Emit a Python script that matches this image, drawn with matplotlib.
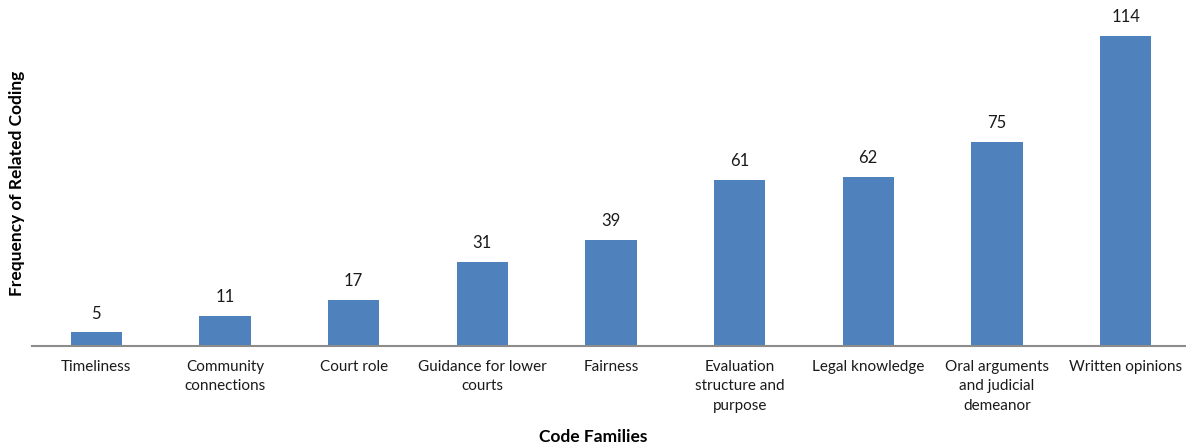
import matplotlib.pyplot as plt

# =============================================================================
# Data
# =============================================================================

families = ['Timeliness', 'Community\nconnections', 'Court role',
            'Guidance for lower\ncourts', 'Fairness',
            'Evaluation\nstructure and\npurpose', 'Legal knowledge',
            'Oral arguments\nand judicial\ndemeanor', 'Written opinions']
counts = [5, 11, 17, 31, 39, 61, 62, 75, 114]

# =============================================================================
# Plot
# =============================================================================

plt.rcParams['font.family'] = ['Lato', 'DejaVu Sans']

fig = plt.figure(figsize = (11.86, 4.47), dpi = 100)
ax = fig.add_axes([32/1186, 1 - 346/447, 1 - 32/1186, 346/447])

x = range(len(families))
ax.bar(x, counts, width = 0.40, color = '#4F81BD', zorder = 2)
for xi, c in zip(x, counts):
    ax.text(xi, c + 4, str(c), ha = 'center', va = 'bottom', fontsize = 12, color = '#1a1a1a')

ax.set_xlim(-0.5, 8.47)
ax.set_ylim(0, 127.2)
ax.set_xticks(list(x))
ax.set_xticklabels(families, fontsize = 11, color = '#1a1a1a', linespacing = 1.5)
ax.tick_params(axis = 'x', length = 0, pad = 10)
ax.set_yticks([])

for s in ['top', 'right', 'left']:
    ax.spines[s].set_visible(False)
ax.spines['bottom'].set_color('#8c8c8c')
ax.spines['bottom'].set_linewidth(1.5)

fig.text(0.5, 1 - 437/447, 'Code Families', ha = 'center', va = 'center', fontsize = 12.5, fontweight = 'bold')
fig.text(17/1186, 1 - 183/447, 'Frequency of Related Coding', ha = 'center', va = 'center',
         rotation = 90, fontsize = 12.5, fontweight = 'bold')

plt.savefig('out.png', dpi = 100)
